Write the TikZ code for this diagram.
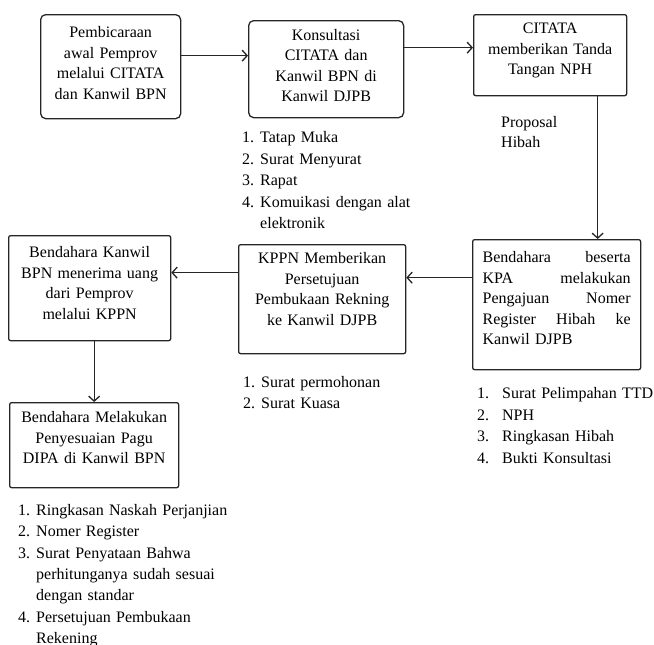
\documentclass[tikz,border=0pt]{standalone}
\usepackage{fontspec}
\setmainfont{Liberation Serif}
\usetikzlibrary{arrows.meta}
\newcommand{\nomor}[2][18pt]{\makebox[#1][l]{#2}}

\begin{document}
\begin{tikzpicture}[x=1pt,y=-1pt]
	\tikzstyle{box} = [draw=black!85, line width=1.3pt, inner xsep=0pt, inner ysep=0pt, align=center, anchor=north west, font=\fontsize{16}{20.5}\selectfont]
	\tikzstyle{flow} = [-{Straight Barb[length=5pt,width=11pt]}, line width=1.3pt, black!85]
	\tikzstyle{daftar} = [anchor=base west, inner sep=0pt, align=left, font=\fontsize{16}{21.5}\selectfont]

	\useasboundingbox (0,0) rectangle (654,645);

	\node[box, rounded corners=5pt, text width=140pt, text height=23pt, text depth=81pt] (awal) at (40,14) {Pembicaraan\\awal Pemprov\\melalui CITATA\\dan Kanwil BPN};
	\node[box, rounded corners=5pt, text width=155pt, text height=19.5pt, text depth=77.5pt] (konsul) at (248,20) {Konsultasi\\CITATA dan\\Kanwil BPN di\\Kanwil DJPB};
	\node[box, rounded corners=2pt, text width=153pt, text height=19pt, text depth=62pt] (ttd) at (473,14) {CITATA\\memberikan Tanda\\Tangan NPH};
	\node[box, rounded corners=2pt, inner xsep=10pt, text width=148pt, align=left, text height=23pt, text depth=107pt] (register) at (472,239) {Bendahara\hfill beserta\\KPA\hfill melakukan\\Pengajuan\hfill Nomer\\Register\hfill Hibah\hfill ke\\Kanwil DJPB};
	\node[box, rounded corners=2pt, text width=167pt, text height=19pt, text depth=90pt] (rekening) at (238,244) {KPPN Memberikan\\Persetujuan\\Pembukaan Rekning\\ke Kanwil DJPB};
	\node[box, rounded corners=2pt, text width=162pt, text height=22pt, text depth=83pt] (terima) at (8,235) {Bendahara Kanwil\\BPN menerima uang\\dari Pemprov\\melalui KPPN};
	\node[box, rounded corners=2pt, text width=169pt, text height=20pt, text depth=65pt] (pagu) at (9,402) {Bendahara Melakukan\\Penyesuaian Pagu\\DIPA di Kanwil BPN};

	\draw[flow] ([yshift=11pt]awal.east) -- ([yshift=11pt]awal.east -| konsul.west);
	\draw[flow] ([yshift=7.5pt]ttd.west -| konsul.east) -- ([yshift=7.5pt]ttd.west);
	\draw[flow] ([xshift=47.5pt]ttd.south) -- ([xshift=47.5pt]ttd.south |- register.north);
	\draw[flow] ([yshift=27pt]register.west) -- ([yshift=27pt]register.west -| rekening.east);
	\draw[flow] ([yshift=26.5pt]rekening.west) -- ([yshift=26.5pt]rekening.west -| terima.east);
	\draw[flow] (pagu.north |- terima.south) -- (pagu.north);

	% keterangan
	\node[daftar, text width=200pt] (komunikasi) at (242,142.5) {\nomor{1.}Tatap Muka\\\nomor{2.}Surat Menyurat\\\nomor{3.}Rapat\\\nomor{4.}Komuikasi dengan alat\\\hspace*{18pt}elektronik};
	\node[daftar, text width=80pt, font=\fontsize{16}{20}\selectfont] (proposal) at (501,127) {Proposal\\Hibah};
	\node[daftar, text width=180pt, font=\fontsize{16}{20.5}\selectfont] (syarat1) at (243,387.5) {\nomor{1.}Surat permohonan\\\nomor{2.}Surat Kuasa};
	\node[daftar, text width=200pt] (syarat2) at (477,398.5) {\nomor[25pt]{1.}Surat Pelimpahan TTD\\\nomor[25pt]{2.}NPH\\\nomor[25pt]{3.}Ringkasan Hibah\\\nomor[25pt]{4.}Bukti Konsultasi};
	\node[daftar, text width=240pt, font=\fontsize{16}{21.3}\selectfont] (syarat3) at (18,515.5) {\nomor{1.}Ringkasan Naskah Perjanjian\\\nomor{2.}Nomer Register\\\nomor{3.}Surat Penyataan Bahwa\\\hspace*{18pt}perhitunganya sudah sesuai\\\hspace*{18pt}dengan standar\\\nomor{4.}Persetujuan Pembukaan\\\hspace*{18pt}Rekening};
\end{tikzpicture}
\end{document}
